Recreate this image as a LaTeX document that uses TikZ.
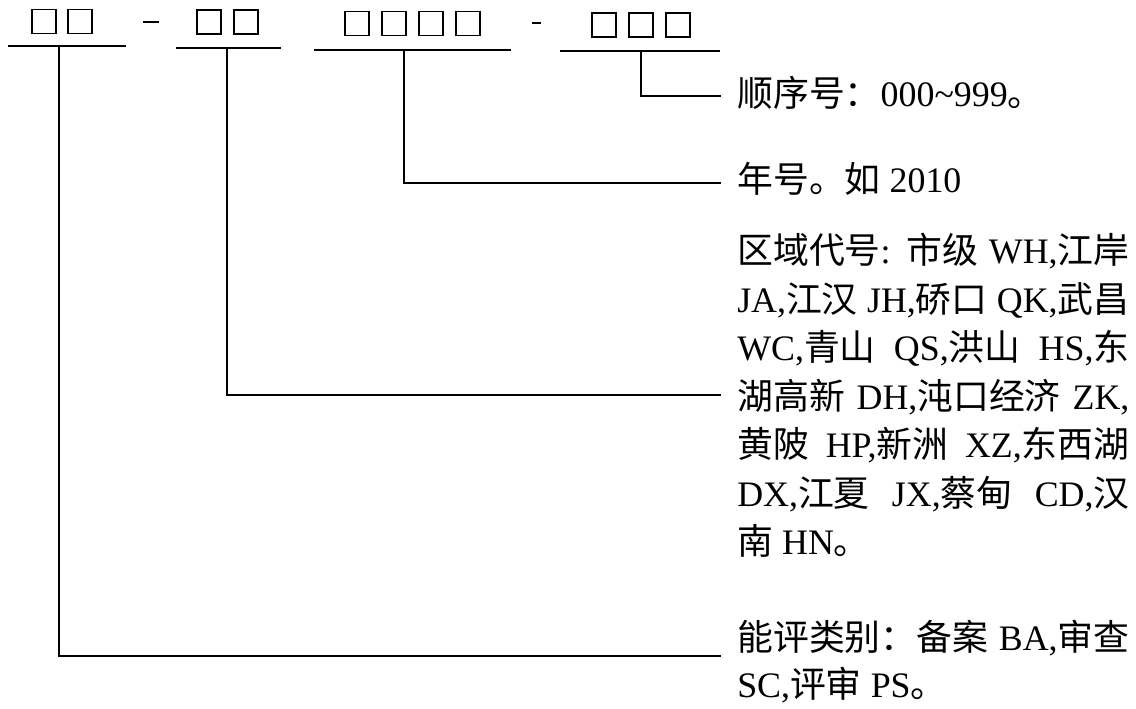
\documentclass[tikz,border=0pt]{standalone}
\usepackage{fontspec}
\setmainfont{Liberation Serif}
\newfontfamily\cjk{Noto Sans CJK SC}
\newcommand\zh[1]{{\cjk #1}}
\newcommand\fullline[1]{\makebox[9.8cm][s]{#1}}
\usetikzlibrary{positioning}

\tikzset{
  digit/.style={draw,line width=1.4pt,minimum width=0.6cm,minimum height=0.6cm,inner sep=0pt},
  under/.style={line width=1.1pt},
  lead/.style={line width=1pt},
  note/.style={anchor=west,inner sep=0pt,text height=20pt,text depth=6pt,
    font=\fontsize{25.5}{30}\selectfont}
}

\begin{document}
\begin{tikzpicture}[x=0.025cm,y=-0.025cm]
      \useasboundingbox (0,0) rectangle (1136,709);
      % code boxes
      \node[digit] (a1) at (44,21.5) {};
      \node[digit] (a2) at (80,21.5) {};
      \node[digit] (b1) at (209,22) {};
      \node[digit] (b2) at (246,22) {};
      \node[digit] (c1) at (357,23.5) {};
      \node[digit] (c2) at (394,23.5) {};
      \node[digit] (c3) at (431,23.5) {};
      \node[digit] (c4) at (468,23.5) {};
      \node[digit] (d1) at (604,25) {};
      \node[digit] (d2) at (641,25) {};
      \node[digit] (d3) at (678,25) {};
      \draw[line width=1.5pt] (143,22) -- (159,22);
      \draw[line width=1.5pt] (532,23) -- (541,23);

      % lines under the groups
      \draw[under] (8,46) -- (126,46);
      \draw[under] (176,48) -- (281,48);
      \draw[under] (314,50) -- (511,50);
      \draw[under] (560,51) -- (720,51);
      \coordinate (u1) at (59,46);
      \coordinate (u2) at (227,48);
      \coordinate (u3) at (404,50);
      \coordinate (u4) at (641,51);

      % notes
      \node[note] (seq) at (737,97) {\zh{顺序号：}000\textasciitilde999\zh{。}};
      \node[note] (year) at (737,183) {\zh{年号。如} 2010};
      \node[note] (area1) at (737,254) {\fullline{\zh{区域代号}: \zh{市级} WH,\zh{江岸}}};
      \node[note] (area2) at (737,302.5) {\fullline{JA,\zh{江汉} JH,\zh{硚口} QK,\zh{武昌}}};
      \node[note] (area3) at (737,351) {\fullline{WC,\zh{青山} QS,\zh{洪山} HS,\zh{东}}};
      \node[note] (area4) at (737,399.5) {\fullline{\zh{湖高新} DH,\zh{沌口经济} ZK,}};
      \node[note] (area5) at (737,448) {\fullline{\zh{黄陂} HP,\zh{新洲} XZ,\zh{东西湖}}};
      \node[note] (area6) at (737,496.5) {\fullline{DX,\zh{江夏} JX,\zh{蔡甸} CD,\zh{汉}}};
      \node[note] (area7) at (737,545) {\zh{南} HN\zh{。}};
      \node[note] (cat1) at (737,641) {\fullline{\zh{能评类别：备案} BA,\zh{审查}}};
      \node[note] (cat2) at (737,688) {SC,\zh{评审} PS\zh{。}};

      % leaders
      \coordinate (e4) at (721,96);
      \coordinate (e3) at (721,183);
      \coordinate (e2) at (721,395);
      \coordinate (e1) at (721,656);
      \draw[lead] (u4) |- (e4);
      \draw[lead] (u3) |- (e3);
      \draw[lead] (u2) |- (e2);
      \draw[lead] (u1) |- (e1);
\end{tikzpicture}
\end{document}
